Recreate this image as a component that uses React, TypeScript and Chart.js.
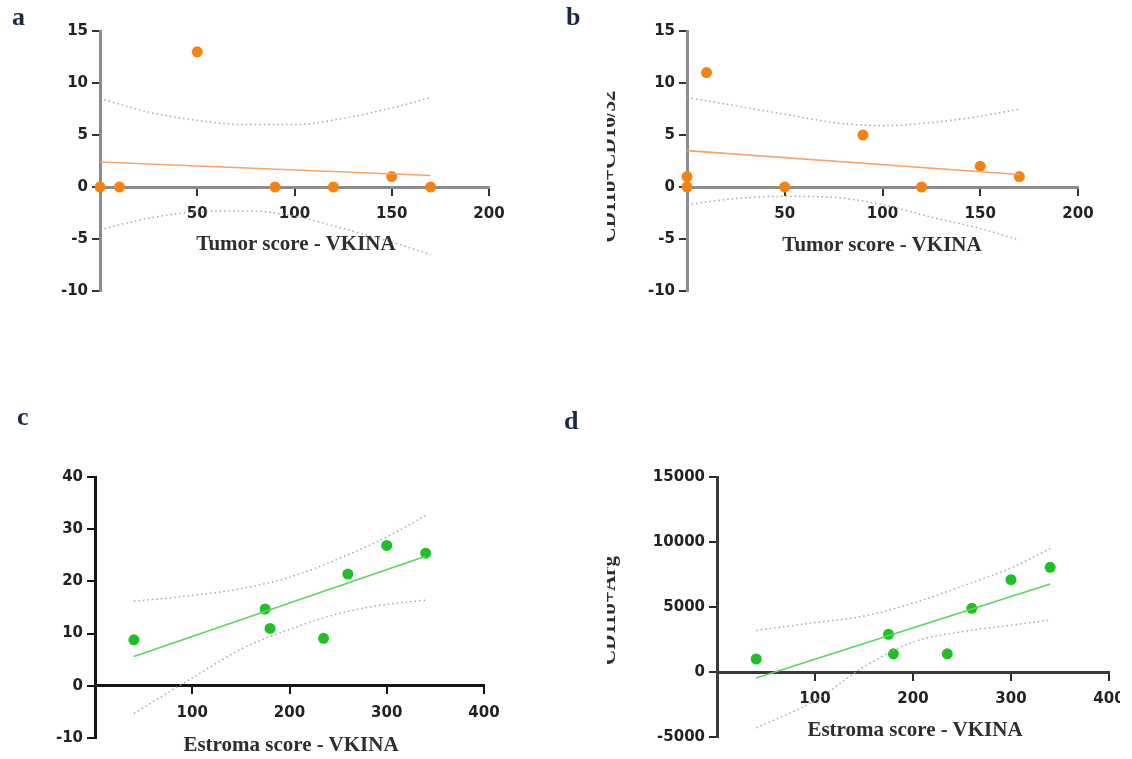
import React, { useEffect, useRef } from 'react';
import { Chart, registerables } from 'chart.js';

Chart.register(...registerables);

// ---------- Panel a ----------
const A_X = [0, 10, 50, 90, 120, 150, 170];
const A_Y = [0, 0, 13, 0, 0, 1, 0];
const A_FIT_X = [0, 170];
const A_FIT_Y = [2.4, 1.1];
const A_BAND_X = [0, 25, 50, 75, 100, 125, 150, 170];
const A_UPPER = [8.5, 7.2, 6.4, 6.0, 6.0, 6.6, 7.6, 8.6];
const A_LOWER = [-4.1, -3.0, -2.4, -2.3, -2.8, -4.0, -5.3, -6.5];

// ---------- Panel b ----------
const B_X = [0, 0, 10, 50, 90, 120, 150, 170];
const B_Y = [0, 1, 11, 0, 5, 0, 2, 1];
const B_FIT_X = [0, 170];
const B_FIT_Y = [3.5, 1.2];
const B_BAND_X = [0, 25, 50, 75, 100, 125, 150, 170];
const B_UPPER = [8.6, 7.8, 7.0, 6.2, 5.9, 6.2, 6.8, 7.5];
const B_LOWER = [-1.7, -1.1, -0.9, -1.0, -1.7, -2.9, -4.0, -5.1];

// ---------- Panel c ----------
const C_X = [40, 175, 180, 235, 260, 300, 340];
const C_Y = [8.8, 14.7, 11.0, 9.1, 21.4, 26.9, 25.4];
const C_FIT_X = [40, 340];
const C_FIT_Y = [5.6, 24.8];
const C_BAND_X = [40, 100, 150, 200, 250, 300, 340];
const C_UPPER = [16.2, 17.3, 18.6, 20.8, 24.3, 28.5, 32.6];
const C_LOWER = [-5.3, 1.5, 7.0, 10.8, 13.8, 15.6, 16.4];

// ---------- Panel d ----------
const D_X = [40, 175, 180, 235, 260, 300, 340];
const D_Y = [1000, 2900, 1400, 1400, 4900, 7100, 8050];
const D_FIT_X = [40, 340];
const D_FIT_Y = [-460, 6770];
const D_BAND_X = [40, 100, 150, 200, 250, 300, 340];
const D_UPPER = [3200, 3800, 4300, 5300, 6600, 8000, 9500];
const D_LOWER = [-4300, -2200, 400, 2300, 3100, 3600, 4000];

const ORANGE = '#f7820f';
const ORANGE_LINE = '#f7a468';
const GREEN = '#1fc026';
const GREEN_LINE = '#5ad65a';
const BAND = '#a8a8a8';

const zip = (xs: number[], ys: number[]) => xs.map((x, i) => ({ x, y: ys[i] }));

type PanelCfg = {
  left: number; top: number; width: number; height: number;
  pad: { left: number; right: number; top: number; bottom: number };
  xMin: number; xMax: number; xStep: number;
  yMin: number; yMax: number; yStep: number;
  px: number[]; py: number[]; fx: number[]; fy: number[];
  bx: number[]; bu: number[]; bl: number[];
  dot: string; line: string; axis: string; tick: string;
};

const PANELS: PanelCfg[] = [
  {
    left: 0, top: 0, width: 560, height: 330,
    pad: { left: 100, right: 71, top: 31, bottom: 39 },
    xMin: 0, xMax: 200, xStep: 50, yMin: -10, yMax: 15, yStep: 5,
    px: A_X, py: A_Y, fx: A_FIT_X, fy: A_FIT_Y, bx: A_BAND_X, bu: A_UPPER, bl: A_LOWER,
    dot: ORANGE, line: ORANGE_LINE, axis: '#8c8c8c', tick: '#333333',
  },
  {
    left: 560, top: 0, width: 572, height: 330,
    pad: { left: 127, right: 54, top: 31, bottom: 39 },
    xMin: 0, xMax: 200, xStep: 50, yMin: -10, yMax: 15, yStep: 5,
    px: B_X, py: B_Y, fx: B_FIT_X, fy: B_FIT_Y, bx: B_BAND_X, bu: B_UPPER, bl: B_LOWER,
    dot: ORANGE, line: ORANGE_LINE, axis: '#8c8c8c', tick: '#333333',
  },
  {
    left: 0, top: 400, width: 560, height: 359,
    pad: { left: 95, right: 76, top: 77, bottom: 21 },
    xMin: 0, xMax: 400, xStep: 100, yMin: -10, yMax: 40, yStep: 10,
    px: C_X, py: C_Y, fx: C_FIT_X, fy: C_FIT_Y, bx: C_BAND_X, bu: C_UPPER, bl: C_LOWER,
    dot: GREEN, line: GREEN_LINE, axis: '#151515', tick: '#151515',
  },
  {
    left: 560, top: 400, width: 600, height: 359,
    pad: { left: 157, right: 51, top: 77, bottom: 22 },
    xMin: 0, xMax: 400, xStep: 100, yMin: -5000, yMax: 15000, yStep: 5000,
    px: D_X, py: D_Y, fx: D_FIT_X, fy: D_FIT_Y, bx: D_BAND_X, bu: D_UPPER, bl: D_LOWER,
    dot: GREEN, line: GREEN_LINE, axis: '#3a3a3a', tick: '#2a2a2a',
  },
];

const Y_AXIS_W = 92;

function Panel({ cfg }: { cfg: PanelCfg }) {
  const ref = useRef<HTMLCanvasElement>(null);
  useEffect(() => {
    const tickFont = { family: "'DejaVu Sans', sans-serif", size: 15, weight: 'bold' };
    const chart = new Chart(ref.current as HTMLCanvasElement, {
      type: 'scatter',
      data: {
        datasets: [
          {
            data: zip(cfg.bx, cfg.bu), showLine: true, borderColor: BAND, borderWidth: 1.5,
            borderDash: [1.5, 3], pointRadius: 0, cubicInterpolationMode: 'monotone', fill: false,
          } as any,
          {
            data: zip(cfg.bx, cfg.bl), showLine: true, borderColor: BAND, borderWidth: 1.5,
            borderDash: [1.5, 3], pointRadius: 0, cubicInterpolationMode: 'monotone', fill: false,
          } as any,
          {
            data: zip(cfg.fx, cfg.fy), showLine: true, borderColor: cfg.line, borderWidth: 1.6,
            pointRadius: 0, fill: false,
          } as any,
          {
            data: zip(cfg.px, cfg.py), backgroundColor: cfg.dot, borderColor: cfg.dot,
            pointRadius: 5.5, borderWidth: 0, clip: false,
          } as any,
        ],
      },
      options: {
        animation: false,
        responsive: false,
        devicePixelRatio: 1,
        layout: {
          padding: {
            left: cfg.pad.left - Y_AXIS_W, right: cfg.pad.right,
            top: cfg.pad.top, bottom: cfg.pad.bottom,
          },
        },
        plugins: { legend: { display: false }, tooltip: { enabled: false } },
        scales: {
          x: {
            type: 'linear', min: cfg.xMin, max: cfg.xMax, position: { y: 0 } as any,
            ticks: {
              stepSize: cfg.xStep, color: '#222222', font: tickFont, padding: 11,
              maxRotation: 0, autoSkip: false,
              callback: (v: any) => (Number(v) === 0 ? '' : String(v)),
            },
            grid: {
              drawOnChartArea: false, drawTicks: true, tickLength: 7, lineWidth: 2,
              color: (ctx: any) => (ctx.tick && ctx.tick.value === 0 ? 'rgba(0,0,0,0)' : cfg.tick),
            },
            border: { display: true, color: cfg.axis, width: 3 },
            afterFit: (s: any) => { s.height = 0; },
          },
          y: {
            type: 'linear', min: cfg.yMin, max: cfg.yMax, position: 'left',
            ticks: {
              stepSize: cfg.yStep, color: '#222222', font: tickFont, padding: 4,
              autoSkip: false, callback: (v: any) => String(v),
            },
            grid: {
              drawOnChartArea: false, drawTicks: true, tickLength: 8, lineWidth: 2, color: cfg.tick,
            },
            border: { display: true, color: cfg.axis, width: 3 },
            afterFit: (s: any) => { s.width = Y_AXIS_W; },
          },
        },
      } as any,
    });
    return () => chart.destroy();
  }, []);
  return (
    <canvas
      ref={ref}
      width={cfg.width}
      height={cfg.height}
      style={{ position: 'absolute', left: 0, top: 0, width: cfg.width, height: cfg.height }}
    />
  );
}

const SERIF = "'Liberation Serif', 'Times New Roman', serif";

function Letter({ text, left, top }: { text: string; left: number; top: number }) {
  return (
    <div style={{ position: 'absolute', left, top, fontFamily: SERIF, fontWeight: 'bold', fontSize: 26, lineHeight: '26px', color: '#1c2848' }}>
      {text}
    </div>
  );
}

function XTitle({ text, cx, baseline }: { text: string; cx: number; baseline: number }) {
  return (
    <div style={{
      position: 'absolute', left: cx - 200, top: baseline - 17.6, width: 400, textAlign: 'center',
      fontFamily: SERIF, fontWeight: 'bold', fontSize: 21, lineHeight: '21px', color: '#2e2e2e', whiteSpace: 'nowrap',
    }}>
      {text}
    </div>
  );
}

function YTitle({ text, cy }: { text: string; cy: number }) {
  const clipLeft = 607;
  const cx = 607.5;
  return (
    <div style={{ position: 'absolute', left: clipLeft, top: cy - 100, width: 14, height: 200, overflow: 'hidden' }}>
      <div style={{
        position: 'absolute', left: cx - clipLeft - 100, top: 100 - 10.5, width: 200, height: 21,
        lineHeight: '21px', textAlign: 'center', transform: 'rotate(-90deg)', transformOrigin: '50% 50%',
        fontFamily: SERIF, fontWeight: 'bold', fontSize: 21, color: '#2e2e2e', whiteSpace: 'nowrap',
      }}>
        {text}
      </div>
    </div>
  );
}

export default function App() {
  return (
    <div style={{ position: 'fixed', left: 0, top: 0, width: 1132, height: 759, background: '#ffffff', overflow: 'hidden' }}>
      {PANELS.map((p, i) => (
        <div key={i} style={{
          position: 'absolute', left: p.left, top: p.top,
          width: i === 3 ? 1120 - p.left : p.width, height: p.height, overflow: 'hidden',
        }}>
          <Panel cfg={p} />
        </div>
      ))}
      <Letter text="a" left={12} top={4} />
      <Letter text="b" left={566} top={4} />
      <Letter text="c" left={17} top={404} />
      <Letter text="d" left={564} top={408} />
      <XTitle text="Tumor score - VKINA" cx={296} baseline={251} />
      <XTitle text="Tumor score - VKINA" cx={882} baseline={252} />
      <XTitle text="Estroma score - VKINA" cx={291} baseline={752} />
      <XTitle text="Estroma score - VKINA" cx={915} baseline={737} />
      <YTitle text="CD11b+CD16/32" cy={166} />
      <YTitle text="CD11b+Arg" cy={610} />
    </div>
  );
}
